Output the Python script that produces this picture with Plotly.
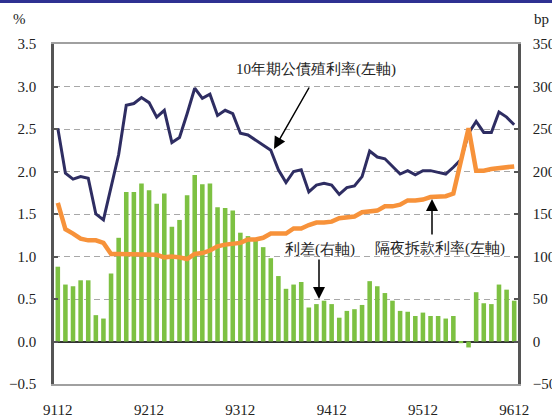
import plotly.graph_objects as go

# ROC year-month categories (91/12 .. 96/12)
months = [
    "9112", "9201", "9202", "9203", "9204", "9205", "9206", "9207", "9208", "9209", "9210", "9211",
    "9212", "9301", "9302", "9303", "9304", "9305", "9306", "9307", "9308", "9309", "9310", "9311",
    "9312", "9401", "9402", "9403", "9404", "9405", "9406", "9407", "9408", "9409", "9410", "9411",
    "9412", "9501", "9502", "9503", "9504", "9505", "9506", "9507", "9508", "9509", "9510", "9511",
    "9512", "9601", "9602", "9603", "9604", "9605", "9606", "9607", "9608", "9609", "9610", "9611",
    "9612",
]

# 10-year government bond yield (%, left axis)
yield_10y = [
    2.51, 1.98, 1.91, 1.94, 1.92, 1.50, 1.43, 1.82, 2.20, 2.78, 2.80, 2.87,
    2.81, 2.64, 2.72, 2.34, 2.40, 2.68, 2.98, 2.86, 2.91, 2.66, 2.72, 2.68,
    2.45, 2.43, 2.37, 2.31, 2.25, 2.02, 1.87, 2.00, 2.02, 1.76, 1.84, 1.86,
    1.84, 1.73, 1.81, 1.83, 1.94, 2.24, 2.17, 2.15, 2.06, 1.97, 2.01, 1.96,
    2.01, 2.01, 1.99, 1.97, 2.05, 2.14, 2.45, 2.59, 2.46, 2.46, 2.70, 2.64,
    2.55,
]

# Overnight interbank call-loan rate (%, left axis)
overnight = [
    1.63, 1.32, 1.27, 1.21, 1.19, 1.19, 1.16, 1.03, 1.03, 1.03, 1.03, 1.03,
    1.03, 1.02, 0.99, 1.00, 0.99, 0.97, 1.03, 1.04, 1.07, 1.12, 1.14, 1.15,
    1.16, 1.20, 1.20, 1.22, 1.27, 1.27, 1.27, 1.33, 1.33, 1.37, 1.40, 1.40,
    1.41, 1.45, 1.46, 1.47, 1.52, 1.53, 1.54, 1.59, 1.59, 1.61, 1.66, 1.66,
    1.67, 1.70, 1.70, 1.71, 1.74, 2.15, 2.51, 2.01, 2.01, 2.03, 2.04, 2.04,
    2.06,
]

# Spread (bp, right axis)
spread_bp = [
    88, 67, 65, 72, 72, 31, 27, 80, 122, 176, 176, 186,
    178, 162, 174, 135, 143, 172, 196, 185, 186, 158, 157, 154,
    128, 124, 119, 111, 98, 77, 62, 67, 70, 40, 44, 48,
    44, 28, 36, 38, 43, 71, 65, 57, 48, 36, 35, 30,
    34, 30, 30, 27, 30, -2, -7, 58, 45, 44, 67, 61,
    48,
]

x_ticks = ["9112", "9212", "9312", "9412", "9512", "9612"]
left_ticks = [-0.5, 0.0, 0.5, 1.0, 1.5, 2.0, 2.5, 3.0, 3.5]
right_ticks = [-50, 0, 50, 100, 150, 200, 250, 300, 350]

label_bond = "10年期公債殖利率(左軸)"
label_spread = "利差(右軸)"
label_overnight = "隔夜拆款利率(左軸)"

SERIF = "Liberation Serif"
TEXT_FONT = dict(family=SERIF, size=15, color="#222222")

W, H = 552, 418
L, R, T, B = 54, 34, 44, 34
PW, PH = W - L - R, H - T - B


def px_x(px):
    return (px - L) / PW


def px_y(py):
    return (H - B - py) / PH


fig = go.Figure()
fig.add_trace(go.Bar(
    x=months, y=spread_bp, yaxis="y",
    marker=dict(color="#7DC142", line=dict(width=0)),
    name=label_spread, showlegend=False,
))
fig.add_trace(go.Scatter(
    x=months, y=yield_10y, yaxis="y2", mode="lines",
    line=dict(color="#2E2D62", width=3),
    name=label_bond, showlegend=False,
))
fig.add_trace(go.Scatter(
    x=months, y=overnight, yaxis="y2", mode="lines",
    line=dict(color="#F7923A", width=4.5),
    name=label_overnight, showlegend=False,
))

fig.update_layout(
    width=W, height=H,
    margin=dict(l=L, r=R, t=T, b=B, pad=0, autoexpand=False),
    paper_bgcolor="white", plot_bgcolor="white",
    font=dict(family=SERIF, size=15, color="#222222"),
    bargap=0.4,
    showlegend=False,
    xaxis=dict(
        type="category", range=[-0.5, len(months) - 0.5], automargin=False,
        tickmode="array", tickvals=x_ticks, ticktext=x_ticks,
        showgrid=False, ticks="", showline=True, linecolor="#a0a0a0",
        linewidth=1.5, mirror=True, tickfont=TEXT_FONT,
        ticklabelstandoff=11,
    ),
    yaxis=dict(
        side="right", range=[-50, 350], tickmode="array", tickvals=right_ticks,
        automargin=False,
        showgrid=False, zeroline=True, zerolinecolor="#333333", zerolinewidth=1.5,
        showline=True, linecolor="#555555", linewidth=2.5,
        ticks="inside", ticklen=4, tickcolor="#555555", tickwidth=1.5,
        tickfont=TEXT_FONT, ticklabelstandoff=9,
    ),
    yaxis2=dict(
        side="left", overlaying="y", anchor="x", range=[-0.5, 3.5],
        automargin=False,
        tickmode="array", tickvals=left_ticks, tickformat=".1f",
        showgrid=True, gridcolor="#a8a8a8", gridwidth=1, griddash="6px,4px",
        zeroline=False, showline=True, linecolor="#555555", linewidth=2.5,
        ticks="inside", ticklen=4, tickcolor="#555555", tickwidth=1.5,
        tickfont=TEXT_FONT, ticklabelstandoff=12,
    ),
)

# navy header strip
fig.add_shape(type="rect", xref="paper", yref="paper",
              x0=px_x(0), x1=px_x(W), y0=px_y(3), y1=px_y(0),
              fillcolor="#2E3192", line=dict(width=0), layer="above")

# axis unit labels
fig.add_annotation(text="%", xref="paper", yref="paper", x=px_x(19), y=px_y(19),
                   showarrow=False, font=TEXT_FONT, xanchor="center", yanchor="middle")
fig.add_annotation(text="bp", xref="paper", yref="paper", x=px_x(541), y=px_y(19),
                   showarrow=False, font=TEXT_FONT, xanchor="center", yanchor="middle")

# text labels
fig.add_annotation(text=label_bond, xref="paper", yref="paper", x=px_x(316), y=px_y(70),
                   showarrow=False, font=TEXT_FONT, xanchor="center", yanchor="middle")
fig.add_annotation(text=label_spread, xref="paper", yref="paper", x=px_x(320), y=px_y(249),
                   showarrow=False, font=TEXT_FONT, xanchor="center", yanchor="middle")
fig.add_annotation(text=label_overnight, xref="paper", yref="paper", x=px_x(440), y=px_y(248),
                   showarrow=False, font=TEXT_FONT, xanchor="center", yanchor="middle")

# arrows (tip in paper coords, tail offset in pixels)
for tip, tail in [((274, 149), (310, 86)), ((319, 299), (319, 258)), ((432, 199), (432, 236))]:
    fig.add_annotation(
        text="", xref="paper", yref="paper", x=px_x(tip[0]), y=px_y(tip[1]),
        ax=tail[0] - tip[0], ay=tail[1] - tip[1], axref="pixel", ayref="pixel",
        showarrow=True, arrowhead=2, arrowsize=1.6, arrowwidth=1.5, arrowcolor="#000000",
    )

fig.write_html(
    "out.html",
    config={"displayModeBar": False},
    post_script="document.body.style.margin='0';document.body.style.padding='0';",
)
